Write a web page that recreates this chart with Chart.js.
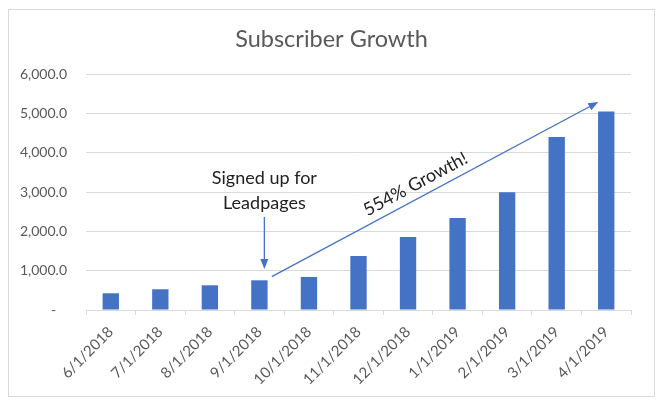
<!DOCTYPE html>
<html><head><meta charset="utf-8">
<script src="https://cdn.jsdelivr.net/npm/chart.js@4/dist/chart.umd.min.js"></script>
<style>html,body{margin:0;padding:0;background:#fff}</style>
</head><body>
<canvas id="c" width="670" height="405"></canvas>
<script>
const categories = ['6/1/2018','7/1/2018','8/1/2018','9/1/2018','10/1/2018','11/1/2018','12/1/2018','1/1/2019','2/1/2019','3/1/2019','4/1/2019'];
const subscribers = [425, 527, 628, 755, 840, 1375, 1857, 2340, 2995, 4400, 5045];
const yMin = 0, yMax = 6000, yStep = 1000;
const chartTitle = 'Subscriber Growth';
const noteLines = ['Signed up for', 'Leadpages'];
const noteArrow = { x: 3.1, from: 2365, to: 1042 };
const noteTextY = [3200, 2565];
const growthArrow = { x0: 3.25, y0: 847, x1: 9.84, y1: 5288 };
const growthLabel = '554% Growth!';
const growthLabelPos = { x: 6.15, y: 3200 };

const FONT = 'Lato, "Open Sans", sans-serif';
const BLUE = '#4472c4';
const GREY = '#595959';
const GRID = '#d9d9d9';

function arrowHead(ctx, x, y, angle, len, w) {
  ctx.save();
  ctx.translate(x, y); ctx.rotate(angle);
  ctx.beginPath();
  ctx.moveTo(0, 0); ctx.lineTo(-len, -w/2); ctx.lineTo(-len, w/2); ctx.closePath();
  ctx.fill();
  ctx.restore();
}

const annotate = {
  id: 'annotate',
  beforeDraw(chart) {
    const ctx = chart.ctx;
    ctx.save();
    ctx.fillStyle = '#fff';
    ctx.fillRect(0, 0, chart.width, chart.height);
    ctx.strokeStyle = GRID; ctx.lineWidth = 1;
    ctx.strokeRect(8.5, 9.5, 646, 387);
    ctx.fillStyle = GREY;
    ctx.font = '23.5px ' + FONT;
    ctx.textAlign = 'center'; ctx.textBaseline = 'alphabetic';
    ctx.fillText(chartTitle, 331.5, 47);
    ctx.restore();
  },
  afterDatasetsDraw(chart) {
    const ctx = chart.ctx, xs = chart.scales.x, ys = chart.scales.y;
    ctx.save();
    ctx.strokeStyle = BLUE; ctx.fillStyle = BLUE; ctx.lineWidth = 1.3;
    const ax = xs.getPixelForValue(noteArrow.x);
    const ay0 = ys.getPixelForValue(noteArrow.from), ay1 = ys.getPixelForValue(noteArrow.to);
    ctx.beginPath(); ctx.moveTo(ax, ay0); ctx.lineTo(ax, ay1 - 8); ctx.stroke();
    arrowHead(ctx, ax, ay1, Math.PI/2, 10, 8);
    const gx0 = xs.getPixelForValue(growthArrow.x0), gy0 = ys.getPixelForValue(growthArrow.y0);
    const gx1 = xs.getPixelForValue(growthArrow.x1), gy1 = ys.getPixelForValue(growthArrow.y1);
    const ang = Math.atan2(gy1 - gy0, gx1 - gx0);
    ctx.beginPath(); ctx.moveTo(gx0, gy0);
    ctx.lineTo(gx1 - 8*Math.cos(ang), gy1 - 8*Math.sin(ang)); ctx.stroke();
    arrowHead(ctx, gx1, gy1, ang, 10, 8);
    ctx.fillStyle = '#222';
    ctx.font = '18px ' + FONT;
    ctx.textAlign = 'center'; ctx.textBaseline = 'alphabetic';
    noteLines.forEach((t, i) => ctx.fillText(t, ax, ys.getPixelForValue(noteTextY[i])));
    const tx = xs.getPixelForValue(growthLabelPos.x), ty = ys.getPixelForValue(growthLabelPos.y);
    ctx.translate(tx, ty); ctx.rotate(ang);
    ctx.textBaseline = 'middle';
    ctx.font = '18px ' + FONT;
    ctx.fillText(growthLabel, 0, 0);
    ctx.restore();
  }
};

new Chart(document.getElementById('c'), {
  type: 'bar',
  data: { labels: categories, datasets: [{ data: subscribers, backgroundColor: BLUE, barPercentage: 0.66, categoryPercentage: 0.5 }] },
  options: {
    responsive: false, animation: false,
    layout: { padding: { left: 0, right: 39, top: 74, bottom: 0 } },
    plugins: {
      legend: { display: false }, tooltip: { enabled: false }, title: { display: false }
    },
    scales: {
      x: {
        grid: { drawOnChartArea: false, drawTicks: true, tickLength: 5, color: GRID },
        border: { display: true, color: GRID },
        ticks: { color: GREY, font: { family: FONT, size: 15 }, minRotation: 45, maxRotation: 45, autoSkip: false, padding: 8 },
        afterFit(s) { s.height = 95; }
      },
      y: {
        min: yMin, max: yMax,
        grid: { color: GRID, drawTicks: false },
        border: { display: false },
        ticks: { stepSize: yStep, color: GREY, font: { family: FONT, size: 14 }, padding: 19,
          callback: v => v === 0 ? '-   ' : v.toLocaleString('en-US', { minimumFractionDigits: 1, maximumFractionDigits: 1 }) },
        afterFit(s) { s.width = 86; }
      }
    }
  },
  plugins: [annotate]
});
</script>
</body></html>
